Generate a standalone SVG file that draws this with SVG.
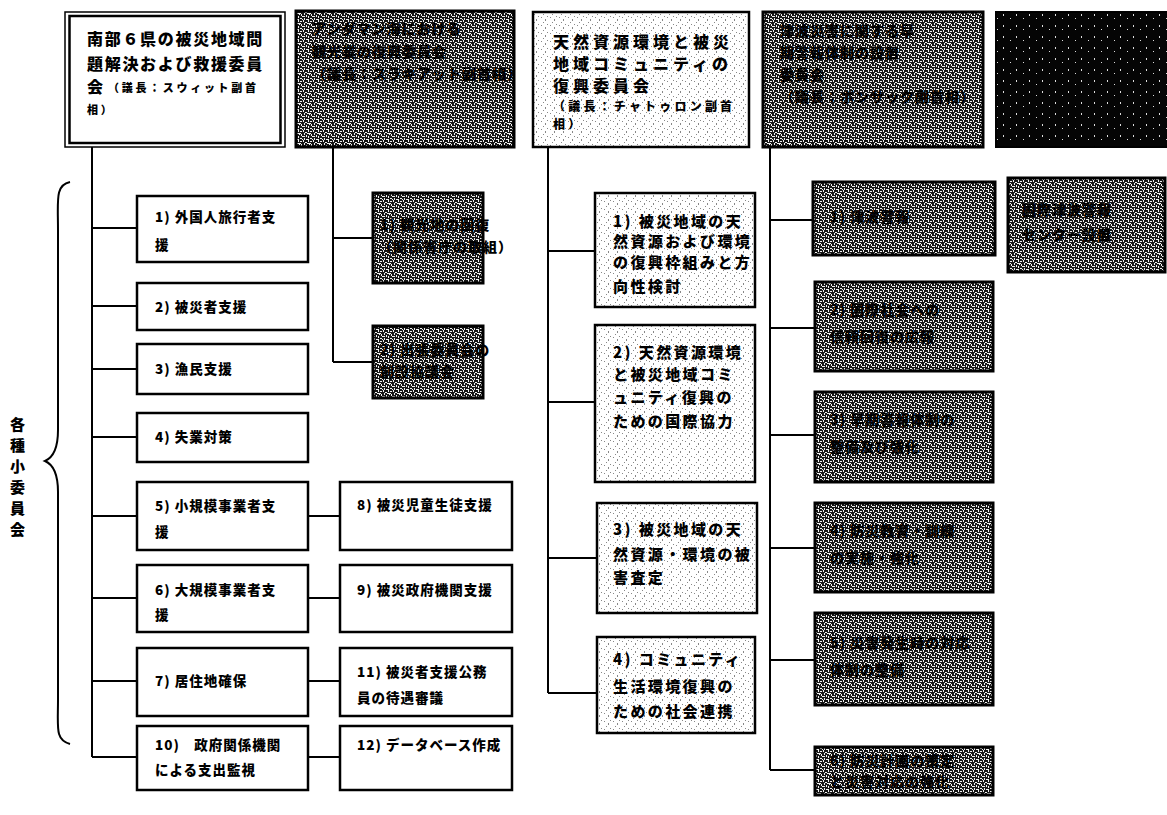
<svg xmlns="http://www.w3.org/2000/svg" width="1167" height="815" viewBox="0 0 1167 815">
<defs>
<pattern id="pdark" width="10" height="10" patternUnits="userSpaceOnUse">
<rect width="10" height="10" fill="#161616"/>
<path d="M0 1h2v1H0zM3 0h1v2H3zM5 2h2v1H5zM4 3h1v2H4zM1 4h1v2H1zM2 6h3v1H2zM6 5h1v2H6zM0 3h1v1H0zM8 0h1v2H8zM7 3h3v1H7zM8 6h1v2H8zM0 8h2v1H0zM4 8h1v2H4zM6 9h3v1H6zM9 4h1v1H9zM2 9h1v1H2z" fill="#f2f2f2"/>
</pattern>
<pattern id="pblack" width="13" height="11" patternUnits="userSpaceOnUse">
<rect width="13" height="11" fill="#050505"/>
<path d="M2 3h1v2H2zM9 7h1v1H9z" fill="#ddd"/>
</pattern>
<pattern id="pdots" width="9" height="8" patternUnits="userSpaceOnUse">
<rect width="9" height="8" fill="#fff"/>
<path d="M1 1h1v1H1zM5 3h1v2H5zM3 6h1v1H3zM7 0h1v1H7z" fill="#888"/>
</pattern>
</defs>
<style>
.t{font-family:"Noto Sans CJK JP","Noto Sans CJK SC",sans-serif;font-weight:900;fill:#000}
.h{font-size:16px;letter-spacing:1.7px}
.hs{font-size:11px;letter-spacing:2.7px}
.c1{font-size:13.5px;letter-spacing:1px}
.c3{font-size:15px;letter-spacing:2.4px}
.c3h{font-size:16px;letter-spacing:4px}
.c3s{font-size:12px;letter-spacing:3.2px}
.dk{font-size:14px;letter-spacing:1px;fill:#000}
.box{fill:#fff;stroke:#000;stroke-width:2.5}
.dbox{fill:url(#pdark);stroke:#000;stroke-width:3}
.lbox{fill:url(#pdots);stroke:#000;stroke-width:2.5}
.ln{fill:none;stroke:#000;stroke-width:2}
</style>

<g id="connectors">
<path class="ln" d="M92 147V757M92 228H137M92 306H137M92 369H137M92 437H137M92 516H137M92 598H137M92 681H137M92 757H137"/>
<path class="ln" d="M308 516H340M308 598H340M308 681H340M308 757H340"/>
<path class="ln" d="M333 147V362M333 238H373M333 362H373"/>
<path class="ln" d="M548 147V693M548 251H595M548 402H595M548 558H597M548 693H597"/>
<path class="ln" d="M770 147V770M770 220H813M770 328H815M770 435H815M770 548H815M770 660H815M770 770H815"/>
<path d="M70 182C55 185 58 200 58 230V430C58 450 52 458 45 461C52 464 58 472 58 492V700C58 728 55 740 70 744" fill="none" stroke="#000" stroke-width="2"/>
</g>

<g id="label-subcommittees">
<text class="t" font-size="15" x="10" y="430">各</text>
<text class="t" font-size="15" x="10" y="451">種</text>
<text class="t" font-size="15" x="10" y="472">小</text>
<text class="t" font-size="15" x="10" y="493">委</text>
<text class="t" font-size="15" x="10" y="514">員</text>
<text class="t" font-size="15" x="10" y="535">会</text>
</g>

<g id="h1">
<rect x="65" y="12" width="220" height="135" fill="#fff" stroke="#000" stroke-width="1.5"/>
<rect x="69.5" y="16" width="211" height="127" fill="none" stroke="#000" stroke-width="2.5"/>
<text class="t h" x="87" y="45">南部６県の被災地域問</text>
<text class="t h" x="87" y="70">題解決および救援委員</text>
<text class="t h" x="87" y="93">会</text>
<text class="t hs" x="108" y="92">（議長：スウィット副首</text>
<text class="t hs" x="87" y="114">相）</text>
</g>

<g id="h2">
<rect class="dbox" x="296" y="11" width="218" height="136"/>
<text class="t dk" x="312" y="34">アンダマン海における</text>
<text class="t dk" x="312" y="57">観光業の復興委員会</text>
<text class="t dk" font-size="10.5" letter-spacing="0" x="312" y="79">（議長：スラキアット副首相）</text>
</g>

<g id="h3">
<rect class="lbox" x="533" y="12" width="216" height="135"/>
<text class="t c3h" x="553" y="48">天然資源環境と被災</text>
<text class="t c3h" x="553" y="70">地域コミュニティの</text>
<text class="t c3h" x="553" y="92">復興委員会</text>
<text class="t c3s" x="553" y="111">（議長：チャトゥロン副首</text>
<text class="t c3s" x="553" y="129">相）</text>
</g>

<g id="h4">
<rect class="dbox" x="763" y="12" width="220" height="135"/>
<text class="t dk" x="780" y="36">津波災害に関する早</text>
<text class="t dk" x="780" y="58">期警報体制の設置</text>
<text class="t dk" x="780" y="80">委員会</text>
<text class="t dk" font-size="11" letter-spacing="0" x="780" y="102">（議長：ポンサック副首相）</text>
</g>

<g id="h5">
<rect x="996" y="12" width="175" height="135" fill="url(#pblack)" stroke="#000" stroke-width="2"/>
</g>

<g id="n1-1"><rect class="box" x="137" y="196" width="171" height="66"/>
<text class="t c1" x="155" y="222">1) 外国人旅行者支</text><text class="t c1" x="155" y="250">援</text></g>
<g id="n1-2"><rect class="box" x="137" y="283" width="171" height="47"/>
<text class="t c1" x="155" y="312">2) 被災者支援</text></g>
<g id="n1-3"><rect class="box" x="137" y="344" width="171" height="50"/>
<text class="t c1" x="155" y="374">3) 漁民支援</text></g>
<g id="n1-4"><rect class="box" x="137" y="413" width="171" height="49"/>
<text class="t c1" x="155" y="442">4) 失業対策</text></g>
<g id="n1-5"><rect class="box" x="137" y="482" width="171" height="68"/>
<text class="t c1" x="155" y="511">5) 小規模事業者支</text><text class="t c1" x="155" y="537">援</text></g>
<g id="n1-6"><rect class="box" x="137" y="565" width="171" height="67"/>
<text class="t c1" x="155" y="595">6) 大規模事業者支</text><text class="t c1" x="155" y="620">援</text></g>
<g id="n1-7"><rect class="box" x="137" y="648" width="171" height="68"/>
<text class="t c1" x="155" y="686">7) 居住地確保</text></g>
<g id="n1-10"><rect class="box" x="137" y="726" width="171" height="64"/>
<text class="t c1" x="155" y="750">10)　政府関係機関</text><text class="t c1" x="155" y="775">による支出監視</text></g>

<g id="n1-8"><rect class="box" x="340" y="482" width="172" height="68"/>
<text class="t c1" x="357" y="510">8) 被災児童生徒支援</text></g>
<g id="n1-9"><rect class="box" x="340" y="565" width="172" height="67"/>
<text class="t c1" x="357" y="595">9) 被災政府機関支援</text></g>
<g id="n1-11"><rect class="box" x="340" y="648" width="172" height="68"/>
<text class="t c1" x="357" y="677">11) 被災者支援公務</text><text class="t c1" x="357" y="703">員の待遇審議</text></g>
<g id="n1-12"><rect class="box" x="340" y="726" width="172" height="64"/>
<text class="t c1" x="357" y="750">12) データベース作成</text></g>

<g id="n2-1"><rect class="dbox" x="373" y="193" width="110" height="90"/>
<text class="t dk" font-size="12" letter-spacing="0" x="380" y="230">1) 観光地の回復</text><text class="t dk" font-size="11" letter-spacing="0" x="378" y="252">（関係省庁の取組）</text></g>
<g id="n2-2"><rect class="dbox" x="373" y="326" width="110" height="72"/>
<text class="t dk" font-size="12" letter-spacing="0" x="380" y="355">2) 出張委員会の</text><text class="t dk" font-size="12" letter-spacing="0" x="380" y="377">創設協議会</text></g>

<g id="n3-1"><rect class="lbox" x="595" y="193" width="160" height="114"/>
<text class="t c3" x="613" y="227">1) 被災地域の天</text><text class="t c3" x="613" y="247">然資源および環境</text>
<text class="t c3" x="613" y="268">の復興枠組みと方</text><text class="t c3" x="613" y="292">向性検討</text></g>
<g id="n3-2"><rect class="lbox" x="595" y="325" width="160" height="157"/>
<text class="t c3" x="613" y="358">2) 天然資源環境</text><text class="t c3" x="613" y="380">と被災地域コミ</text>
<text class="t c3" x="613" y="403">ュニティ復興の</text><text class="t c3" x="613" y="427">ための国際協力</text></g>
<g id="n3-3"><rect class="lbox" x="597" y="503" width="160" height="110"/>
<text class="t c3" x="613" y="535">3) 被災地域の天</text><text class="t c3" x="613" y="560">然資源・環境の被</text>
<text class="t c3" x="613" y="583">害査定</text></g>
<g id="n3-4"><rect class="lbox" x="597" y="637" width="158" height="96"/>
<text class="t c3" x="613" y="665">4) コミュニティ</text><text class="t c3" x="613" y="692">生活環境復興の</text>
<text class="t c3" x="613" y="717">ための社会連携</text></g>

<g id="n4-1"><rect class="dbox" x="813" y="182" width="182" height="73"/>
<text class="t dk" x="830" y="222">1) 津波警報</text></g>
<g id="n4-x"><rect class="dbox" x="1008" y="178" width="157" height="94"/>
<text class="t dk" x="1022" y="215">国際津波警報</text><text class="t dk" x="1022" y="240">センター設置</text></g>
<g id="n4-2"><rect class="dbox" x="815" y="282" width="178" height="89"/>
<text class="t dk" x="830" y="315">2) 国際社会への</text><text class="t dk" x="830" y="342">信頼回復の広報</text></g>
<g id="n4-3"><rect class="dbox" x="815" y="392" width="178" height="90"/>
<text class="t dk" x="830" y="425">3) 早期警報体制の</text><text class="t dk" x="830" y="452">整備及び強化</text></g>
<g id="n4-4"><rect class="dbox" x="815" y="503" width="178" height="89"/>
<text class="t dk" x="830" y="536">4) 防災教育・訓練</text><text class="t dk" x="830" y="563">の実施・強化</text></g>
<g id="n4-5"><rect class="dbox" x="815" y="613" width="178" height="92"/>
<text class="t dk" x="830" y="648">5) 災害発生時の対応</text><text class="t dk" x="830" y="675">体制の整備</text></g>
<g id="n4-6"><rect class="dbox" x="815" y="747" width="178" height="48"/>
<text class="t dk" font-size="13" x="830" y="766">6) 防災計画の策定</text><text class="t dk" font-size="13" x="830" y="787">と災害対応の強化</text></g>
</svg>
